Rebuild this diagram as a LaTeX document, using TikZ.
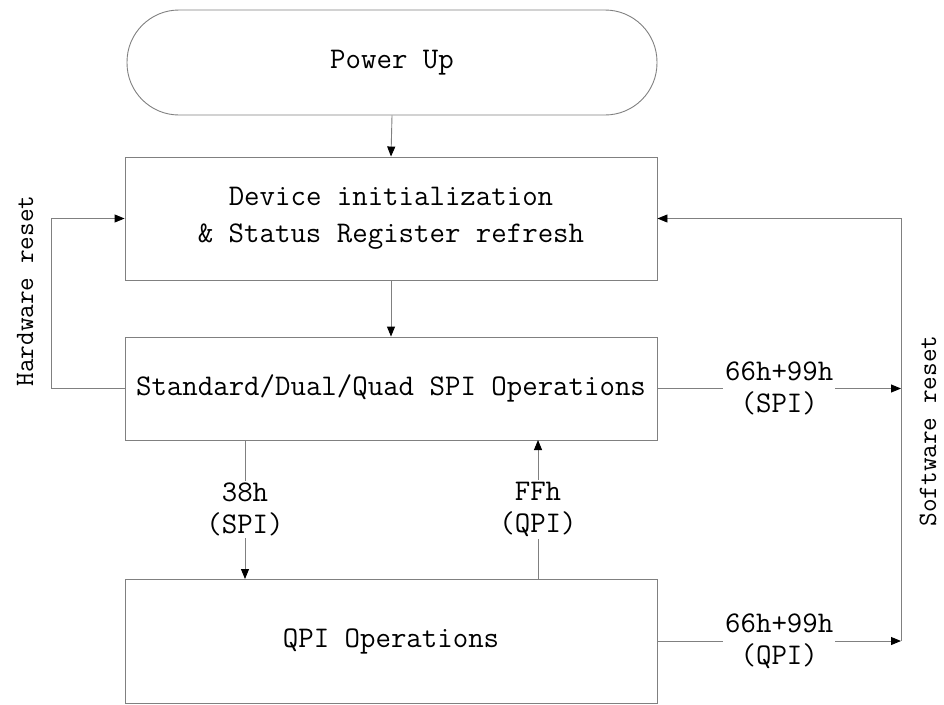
\documentclass[tikz,border=0pt]{standalone}
\usetikzlibrary{arrows.meta}
\begin{document}
\begin{tikzpicture}[x=1pt,y=-1pt,
  every node/.style={font=\ttfamily\fontsize{30}{32}\selectfont, text=black},
  box/.style={draw=linegray, line width=0.9pt, minimum width=532pt, inner sep=0pt},
  conn/.style={draw=linegray, line width=0.9pt},
  arr/.style={conn, -{Triangle[length=10pt,width=8pt,fill=black,color=black]}},
  lbl/.style={fill=white, align=center, inner sep=2pt},
  side/.style={font=\ttfamily\fontsize{26.5}{30}\selectfont, rotate=90}
]
\definecolor{linegray}{RGB}{128,128,128}
\useasboundingbox (0,0) rectangle (944,704);
\node[box, minimum width=530pt, minimum height=105pt, rounded corners=52pt] (pu) at (392,62.5) {Power Up};
\node[box, minimum height=123pt, align=center] (dev) at (391,218.5) {Device initialization\\[5pt]\& Status Register refresh};
\node[box, minimum height=103pt] (std) at (391,388.5) {Standard/Dual/Quad SPI Operations};
\node[box, minimum height=124pt] (qpi) at (391,641) {QPI Operations};
\coordinate (hwb) at (51,388.5);
\coordinate (hwt) at (51,218.5);
\coordinate (swt) at (901,218.5);
\coordinate (swm) at (901,388.5);
\coordinate (swb) at (901,641);
\coordinate (d38) at (245,579);
\coordinate (u38) at (245,440);
\coordinate (dff) at (538,579);
\coordinate (uff) at (538,440);
\draw[arr] (pu.south) -- (dev.north);
\draw[arr] (dev.south) -- (std.north);
\draw[arr] (std.west) -- (hwb) -- (hwt) -- (dev.west);
\draw[arr] (swb) -- (swt) -- (dev.east);
\draw[arr] (std.east) -- (swm) node[lbl, midway] (l1) {66h+99h\\(SPI)};
\draw[arr] (qpi.east) -- (swb) node[lbl, midway] (l2) {66h+99h\\(QPI)};
\draw[arr] (u38) -- (d38) node[lbl, midway] (l3) {38h\\(SPI)};
\draw[arr] (dff) -- (uff) node[lbl, midway] (l4) {FFh\\(QPI)};
\node[side] (hw) at (25,291) {Hardware reset};
\node[side] (sw) at (928,431) {Software reset};
\end{tikzpicture}
\end{document}
